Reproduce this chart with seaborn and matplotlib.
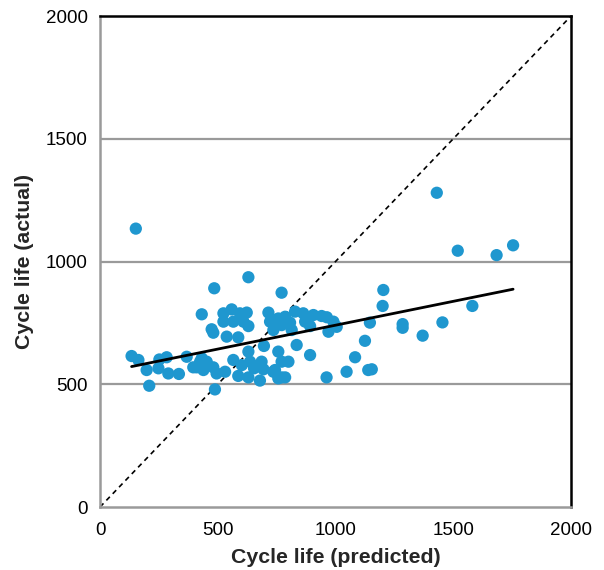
import numpy as np
import pandas as pd
import matplotlib
matplotlib.use("Agg")
import matplotlib.pyplot as plt
import seaborn as sns

# Predicted vs. actual cycle life for each cell
predicted = [
    152, 134, 163, 198, 209, 252, 283, 248, 290, 335,
    368, 396, 410, 425, 432, 432, 439, 453, 474, 481,
    481, 485, 488, 495, 524, 524, 531, 538, 559, 566,
    566, 587, 587, 594, 602, 609, 623, 630, 630, 630,
    630, 637, 654, 679, 686, 694, 696, 715, 722, 736,
    736, 743, 743, 757, 757, 757, 771, 771, 771, 771,
    786, 786, 800, 807, 814, 828, 835, 863, 871, 892,
    892, 906, 941, 962, 963, 970, 991, 1005, 1047, 1083,
    1125, 1139, 1146, 1154, 1200, 1203, 1285, 1285, 1370, 1430,
    1454, 1519, 1581, 1684, 1754,
]
actual = [
    1134, 615, 599, 558, 494, 601, 610, 565, 544, 542,
    612, 569, 569, 592, 785, 606, 558, 592, 724, 710,
    569, 891, 479, 544, 789, 755, 551, 694, 805, 755,
    599, 691, 534, 789, 578, 755, 792, 737, 633, 528,
    936, 592, 565, 515, 592, 561, 656, 792, 755, 721,
    551, 558, 755, 768, 633, 524, 873, 741, 592, 528,
    775, 528, 592, 751, 721, 796, 660, 789, 755, 737,
    619, 782, 778, 528, 773, 714, 755, 734, 551, 610,
    677, 558, 751, 561, 819, 884, 730, 745, 698, 1280,
    752, 1044, 819, 1026, 1066,
]

df = pd.DataFrame({"predicted": predicted, "actual": actual})

sns.set_theme(style="white")
plt.rcParams["font.family"] = ["Liberation Sans", "DejaVu Sans"]

fig = plt.figure(figsize=(6.04, 5.70), dpi=100)
ax = fig.add_axes([0.1656, 0.1105, 0.7798, 0.8614])

grid_color = "#9a9a9a"
for v in (500, 1000, 1500):
    ax.axhline(v, color=grid_color, lw=1.6, zorder=0)

# parity line
ax.plot([0, 2000], [0, 2000], color="black", lw=1.2, ls=(0, (3, 2.5)), zorder=1)

sns.regplot(
    data=df, x="predicted", y="actual", ax=ax, ci=None, truncate=True,
    scatter_kws=dict(s=78, color="#1f97cf", edgecolor="none", alpha=1, zorder=2),
    line_kws=dict(color="black", lw=2.0, zorder=3),
)

ax.set_xlim(0, 2000)
ax.set_ylim(0, 2000)
ax.set_xticks([0, 500, 1000, 1500, 2000])
ax.set_yticks([0, 500, 1000, 1500, 2000])
ax.tick_params(axis="both", direction="out", length=5, width=1.3,
               color=grid_color, labelsize=13.5, labelcolor="black", pad=4)
ax.tick_params(axis="x", pad=6)

for side in ("left", "bottom"):
    ax.spines[side].set_color(grid_color)
    ax.spines[side].set_linewidth(1.8)
for side in ("top", "right"):
    ax.spines[side].set_color("black")
    ax.spines[side].set_linewidth(1.8)

ax.set_xlabel("Cycle life (predicted)", fontsize=15.3, fontweight="bold", labelpad=6)
ax.set_ylabel("Cycle life (actual)", fontsize=15.3, fontweight="bold", labelpad=8)

fig.savefig("out.png", dpi=100)
